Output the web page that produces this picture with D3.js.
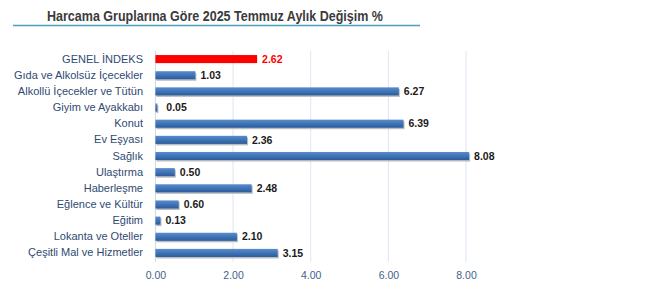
<html>
<head>
<meta charset="utf-8">
<script src="https://d3js.org/d3.v7.min.js"></script>
<style>
body {margin: 0; background: #fff;}
text {font-family: "Liberation Sans", Arial, sans-serif;}
</style>
</head>
<body>
<svg id="chart" width="650" height="302"></svg>
<script>
// data
var categories = ["GENEL İNDEKS", "Gıda ve Alkolsüz İçecekler", "Alkollü İçecekler ve Tütün",
    "Giyim ve Ayakkabı", "Konut", "Ev Eşyası", "Sağlık", "Ulaştırma", "Haberleşme",
    "Eğlence ve Kültür", "Eğitim", "Lokanta ve Oteller", "Çeşitli Mal ve Hizmetler"];
var values = [2.62, 1.03, 6.27, 0.05, 6.39, 2.36, 8.08, 0.50, 2.48, 0.60, 0.13, 2.10, 3.15];
var ticks = [0, 2, 4, 6, 8];
var title = "Harcama Gruplarına Göre 2025 Temmuz Aylık Değişim %";

var svg = d3.select("#chart");

//scales
var xscale = d3.scaleLinear().domain([0, 8]).range([155.4, 466]);
var yscale = d3.scaleBand().domain(categories).range([51, 261]).paddingInner(0.5).paddingOuter(0.25);

//gradient for blue bars
var defs = svg.append("defs");
var grad = defs.append("linearGradient").attr("id", "blueGrad")
    .attr("x1", 0).attr("y1", 0).attr("x2", 0).attr("y2", 1);
grad.append("stop").attr("offset", "0%").attr("stop-color", "#5a8ccb");
grad.append("stop").attr("offset", "50%").attr("stop-color", "#3f74b8");
grad.append("stop").attr("offset", "100%").attr("stop-color", "#2b5b98");

//title
svg.append("text")
    .attr("x", 215).attr("y", 21)
    .attr("text-anchor", "middle")
    .attr("textLength", 336).attr("lengthAdjust", "spacingAndGlyphs")
    .style("font-size", "14px").style("font-weight", "bold")
    .style("fill", "#3b3b3b")
    .text(title);
svg.append("line")
    .attr("x1", 13).attr("x2", 420).attr("y1", 25.5).attr("y2", 25.5)
    .style("stroke", "#4aa0c0").style("stroke-width", 1.5);

//gridlines
svg.append("g").selectAll("line")
    .data(ticks)
    .join("line")
    .attr("x1", d => xscale(d)).attr("x2", d => xscale(d))
    .attr("y1", 51).attr("y2", 262)
    .style("stroke", d => d === 0 ? "#d0d7e2" : "#dde6f2")
    .style("stroke-width", 1);

//x axis labels
svg.append("g")
    .attr("transform", "translate(0,262)")
    .call(d3.axisBottom(xscale).tickValues(ticks).tickFormat(d3.format(".2f")).tickSize(0).tickPadding(10))
    .call(g => g.select(".domain").remove())
    .selectAll("text")
    .style("font-size", "10.5px")
    .style("font-family", "Liberation Sans, Arial, sans-serif")
    .style("fill", "#44618c");

//category labels
svg.append("g")
    .attr("transform", "translate(143,0)")
    .call(d3.axisLeft(yscale).tickSize(0).tickPadding(0))
    .call(g => g.select(".domain").remove())
    .selectAll("text")
    .style("font-size", "11px")
    .style("font-family", "Liberation Sans, Arial, sans-serif")
    .style("fill", "#2f4a72");

//bar shadows
svg.append("g").selectAll("rect")
    .data(categories)
    .join("rect")
    .attr("x", xscale(0) + 1)
    .attr("y", d => yscale(d) + 1.5)
    .attr("width", (d, i) => Math.max(xscale(values[i]) - xscale(0), 1))
    .attr("height", yscale.bandwidth())
    .style("fill", (d, i) => i === 0 ? "none" : "#b9bcc2");

//bars
svg.append("g").selectAll("rect")
    .data(categories)
    .join("rect")
    .attr("x", xscale(0))
    .attr("y", d => yscale(d))
    .attr("width", (d, i) => Math.max(xscale(values[i]) - xscale(0), 1.5))
    .attr("height", yscale.bandwidth())
    .style("fill", (d, i) => i === 0 ? "#ff0000" : "url(#blueGrad)");

//value labels
svg.append("g").selectAll("text")
    .data(categories)
    .join("text")
    .attr("x", (d, i) => xscale(values[i]) + (values[i] < 0.1 ? 9 : 5))
    .attr("y", d => yscale(d) + yscale.bandwidth() / 2)
    .attr("dy", "0.35em")
    .style("font-size", "10.5px").style("font-weight", "bold")
    .style("fill", (d, i) => i === 0 ? "#ff0000" : "#1a1a1a")
    .text((d, i) => values[i].toFixed(2));
</script>
</body>
</html>
